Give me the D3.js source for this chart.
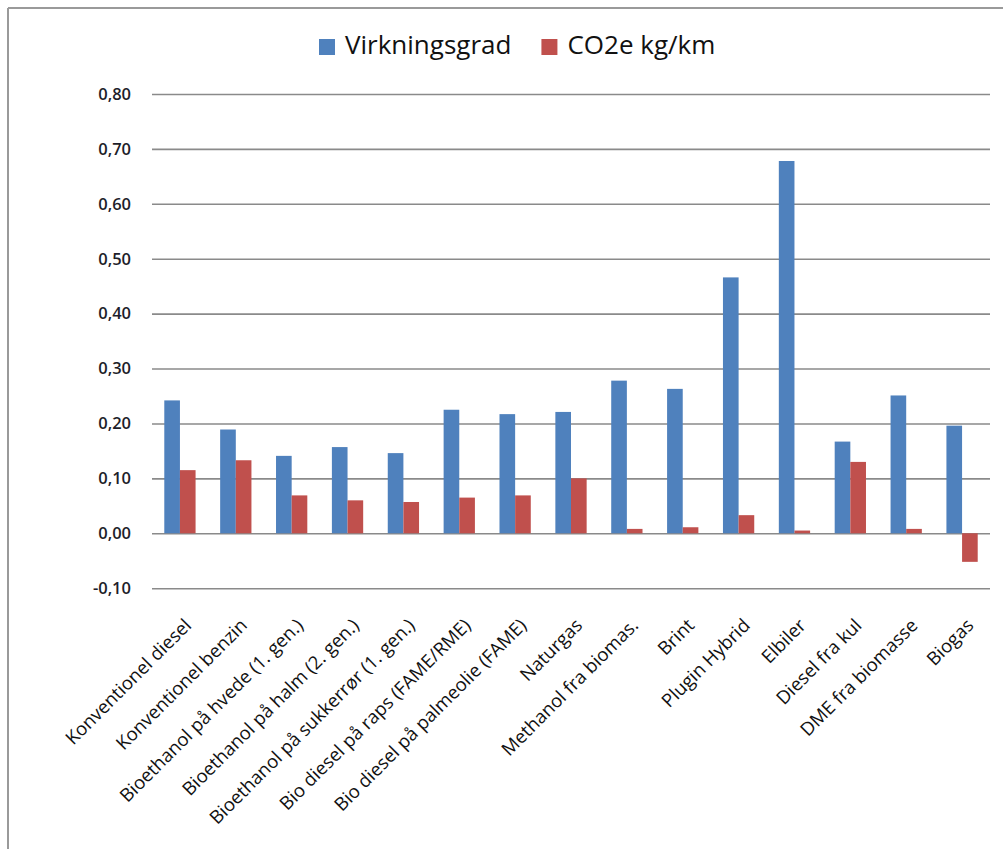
<!DOCTYPE html>
<html>
<head>
<meta charset="utf-8">
<script src="https://cdn.jsdelivr.net/npm/d3@7"></script>
<style>
  html, body { margin: 0; padding: 0; background: #fff; }
  svg { display: block; }
  text { font-family: "Open Sans", "Liberation Sans", sans-serif; }
</style>
</head>
<body>
<svg id="chart" width="1003" height="849"></svg>
<script>
// Fuel / drivetrain categories
const categories = [
  "Konventionel diesel",
  "Konventionel benzin",
  "Bioethanol på hvede (1. gen.)",
  "Bioethanol på halm (2. gen.)",
  "Bioethanol på sukkerrør (1. gen.)",
  "Bio diesel på raps (FAME/RME)",
  "Bio diesel på palmeolie (FAME)",
  "Naturgas",
  "Methanol fra biomas.",
  "Brint",
  "Plugin Hybrid",
  "Elbiler",
  "Diesel fra kul",
  "DME fra biomasse",
  "Biogas"
];

// Efficiency (well-to-wheel)
const virkningsgrad = [0.242, 0.189, 0.141, 0.157, 0.146, 0.225, 0.217, 0.221, 0.278, 0.263, 0.466, 0.678, 0.167, 0.251, 0.196];

// CO2-equivalent emissions per km
const co2e = [0.115, 0.133, 0.069, 0.060, 0.057, 0.065, 0.069, 0.100, 0.008, 0.011, 0.033, 0.005, 0.130, 0.008, -0.052];

const seriesNames = ["Virkningsgrad", "CO2e kg/km"];
const seriesColors = ["#4F81BD", "#C0504D"];

const yTicks = [-0.1, 0, 0.1, 0.2, 0.3, 0.4, 0.5, 0.6, 0.7, 0.8];

const svg = d3.select("#chart");
const W = 1003, H = 849;

// Chart frame
svg.append("line").attr("x1", 8).attr("x2", W).attr("y1", 8).attr("y2", 8)
  .attr("stroke", "#9a9a9a").attr("stroke-width", 2);
svg.append("line").attr("x1", 8).attr("x2", 8).attr("y1", 8).attr("y2", H)
  .attr("stroke", "#9a9a9a").attr("stroke-width", 2);

const plot = { left: 152, right: 990, top: 94, bottom: 588.2 };

const y = d3.scaleLinear().domain([-0.1, 0.8]).range([plot.bottom, plot.top]);
const x0 = d3.scaleBand().domain(categories).range([plot.left, plot.right]).padding(0);
const gap = x0.bandwidth() * 0.44;
const x1 = d3.scaleBand().domain(seriesNames).range([gap / 2, x0.bandwidth() - gap / 2]).padding(0);

const locale = d3.formatLocale({ decimal: ",", thousands: ".", grouping: [3], currency: ["", " kr."], minus: "-" });
const fmt = locale.format(".2f");

// Value axis with gridlines
const yAxis = d3.axisLeft(y)
  .tickValues(yTicks)
  .tickFormat(fmt)
  .tickSize(-(plot.right - plot.left))
  .tickPadding(21);

const gy = svg.append("g")
  .attr("transform", `translate(${plot.left},0)`)
  .call(yAxis);
gy.select(".domain").remove();
gy.selectAll(".tick line").attr("stroke", "#8a8a8a").attr("stroke-width", 1.6);
gy.selectAll(".tick text")
  .attr("fill", "#1e1e2a")
  .style("font-size", "16.5px")
  .style("font-weight", "600");

// Bars
const rows = categories.map((c, i) => ({ cat: c, vals: [virkningsgrad[i], co2e[i]] }));

const groups = svg.append("g").selectAll("g")
  .data(rows)
  .join("g")
  .attr("transform", d => `translate(${x0(d.cat)},0)`);

groups.selectAll("rect")
  .data(d => d.vals.map((v, k) => ({ name: seriesNames[k], value: v, k })))
  .join("rect")
  .attr("x", d => x1(d.name))
  .attr("width", x1.bandwidth())
  .attr("y", d => y(Math.max(0, d.value)))
  .attr("height", d => Math.abs(y(d.value) - y(0)))
  .attr("fill", d => seriesColors[d.k]);

// Category labels, rotated
const xAxis = d3.axisBottom(x0).tickSize(0).tickPadding(0);
const gx = svg.append("g")
  .attr("transform", `translate(0,622)`)
  .call(xAxis);
gx.select(".domain").remove();
gx.selectAll(".tick text")
  .attr("text-anchor", "end")
  .attr("fill", "#111")
  .attr("y", 0)
  .attr("dy", "0.35em")
  .attr("transform", "translate(8,0) rotate(-45)")
  .style("font-size", "18.5px");

// Legend
const legend = svg.append("g").attr("class", "legend");
let lx = 319;
seriesNames.forEach((name, k) => {
  legend.append("rect")
    .attr("x", lx).attr("y", 39).attr("width", 16).attr("height", 16)
    .attr("fill", seriesColors[k]);
  const t = legend.append("text")
    .attr("x", lx + 26).attr("y", 54)
    .attr("fill", "#111")
    .style("font-size", "26px")
    .text(name);
  lx += 26 + t.node().getComputedTextLength() + 30;
});
</script>
</body>
</html>
